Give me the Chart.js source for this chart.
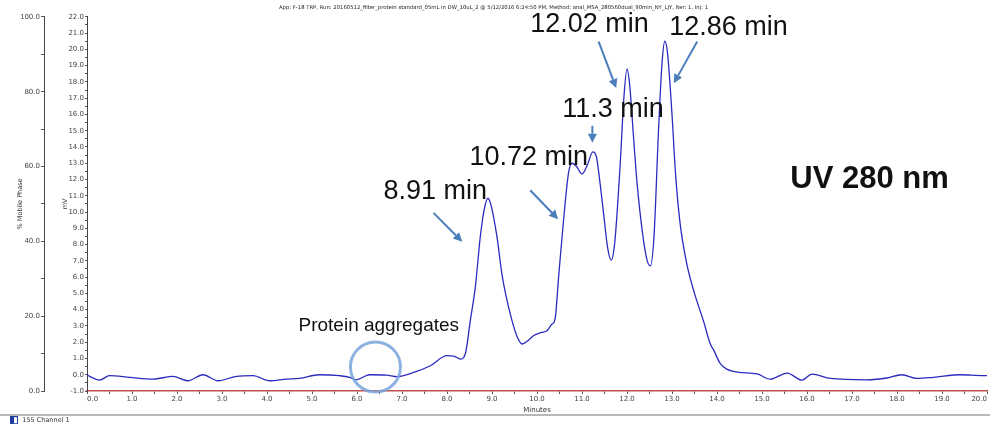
<!DOCTYPE html>
<html>
<head>
<meta charset="utf-8">
<script src="https://cdn.jsdelivr.net/npm/chart.js@4.4.1/dist/chart.umd.min.js"></script>
<style>
  html, body { margin: 0; padding: 0; background: #fff; }
  #wrap { width: 990px; height: 429px; }
</style>
</head>
<body>
<div id="wrap"><canvas id="uvChart"></canvas></div>
<script>
const runTitle = "App: F-18 TRP, Run: 20160512_filter_protein standard_05mL in DW_10uL_2 @ 5/12/2016 6:24:50 PM, Method: anal_MSA_280560dual_90min_NY_LJY, Iter: 1, Inj: 1";
const channelName = "155 Channel 1";

// retention time (minutes)
const times = [
  0.00, 0.28, 0.50, 0.95, 1.47, 1.91, 2.24, 2.58, 2.91, 3.32,
  3.69, 4.06, 4.43, 4.72, 5.17, 5.61, 5.84, 5.98, 6.28, 6.65,
  6.89, 7.26, 7.63, 8.00, 8.15, 8.30, 8.41, 8.52, 8.63, 8.74,
  8.83, 8.91, 8.98, 9.11, 9.22, 9.30, 9.44, 9.55, 9.67, 9.80,
  9.92, 10.10, 10.22, 10.33, 10.40, 10.48, 10.59, 10.70, 10.78, 10.88,
  11.00, 11.12, 11.24, 11.32, 11.40, 11.48, 11.57, 11.65, 11.73, 11.85,
  11.93, 12.00, 12.06, 12.14, 12.22, 12.35, 12.45, 12.52, 12.60, 12.70,
  12.78, 12.84, 12.90, 13.00, 13.08, 13.18, 13.33, 13.50, 13.70, 13.85,
  13.93, 14.07, 14.37, 14.89, 15.18, 15.56, 15.89, 16.11, 16.52, 17.33,
  17.78, 18.11, 18.44, 18.81, 19.41, 19.92, 20.00
];
// detector signal (mV)
const signal = [
  -0.02, -0.33, -0.06, -0.16, -0.27, -0.10, -0.37, 0.00, -0.37, -0.10,
  -0.06, -0.37, -0.27, -0.23, 0.00, -0.06, -0.16, -0.31, 0.00, -0.02,
  -0.12, 0.14, 0.55, 1.17, 1.15, 0.96, 1.32, 3.37, 5.40, 8.49,
  10.20, 10.85, 10.40, 8.49, 6.20, 5.00, 3.37, 2.40, 1.89, 2.10,
  2.40, 2.60, 2.70, 3.10, 3.40, 6.00, 9.50, 12.40, 13.00, 12.80,
  12.34, 12.90, 13.70, 13.40, 11.80, 9.90, 7.80, 7.05, 8.20, 13.00,
  17.00, 18.80, 17.80, 14.80, 11.90, 8.60, 7.00, 6.70, 8.50, 15.00,
  19.20, 20.50, 19.80, 16.00, 12.30, 9.30, 6.80, 5.00, 3.30, 1.90,
  1.50, 0.70, 0.20, 0.05, -0.27, 0.10, -0.33, 0.04, -0.23, -0.31,
  -0.20, 0.00, -0.23, -0.16, 0.00, -0.06, -0.05
];

// peak call-outs: label, where the text sits, arrow from -> to (minutes, mV)
const peakLabels = [
  { text: "8.91 min",  t: 6.59,  v: 11.24, from: [7.70, 9.95],  to: [8.34, 8.17] },
  { text: "10.72 min", t: 8.50,  v: 13.33, from: [9.85, 11.34], to: [10.47, 9.56] },
  { text: "11.3 min",  t: 10.56, v: 16.28, from: [11.23, 15.30], to: [11.23, 14.26] },
  { text: "12.02 min", t: 9.85,  v: 21.51, from: [11.37, 20.48], to: [11.76, 17.62] },
  { text: "12.86 min", t: 12.94, v: 21.32, from: [13.56, 20.48], to: [13.04, 17.92] }
];

// legend marker: half-filled box at the right of a 17px strip
const legendIcon = document.createElement('canvas');
legendIcon.width = 17; legendIcon.height = 8;
(function () {
  const c = legendIcon.getContext('2d');
  c.fillStyle = '#fff'; c.fillRect(8, 0, 8, 8);
  c.fillStyle = '#1f3f9f'; c.fillRect(8, 0, 4, 8);
  c.strokeStyle = '#1f3f9f'; c.lineWidth = 1; c.strokeRect(8.5, 0.5, 7, 7);
})();

const callouts = {
  id: 'callouts',
  afterDatasetsDraw(chart) {
    const { ctx } = chart;
    const x = chart.scales.x, y = chart.scales.mv;
    const px = t => x.getPixelForValue(t);
    const py = v => y.getPixelForValue(v);
    ctx.save();

    // arrows
    ctx.strokeStyle = '#4a7ebb';
    ctx.fillStyle = '#4a7ebb';
    ctx.lineWidth = 2;
    peakLabels.forEach(p => {
      const x0 = px(p.from[0]), y0 = py(p.from[1]);
      const x1 = px(p.to[0]), y1 = py(p.to[1]);
      const a = Math.atan2(y1 - y0, x1 - x0);
      const hl = 9, hw = 4.5;
      const bx = x1 - hl * Math.cos(a), by = y1 - hl * Math.sin(a);
      ctx.beginPath();
      ctx.moveTo(x0, y0);
      ctx.lineTo(bx, by);
      ctx.stroke();
      ctx.beginPath();
      ctx.moveTo(x1, y1);
      ctx.lineTo(bx + hw * Math.sin(a), by - hw * Math.cos(a));
      ctx.lineTo(bx - hw * Math.sin(a), by + hw * Math.cos(a));
      ctx.closePath();
      ctx.fill();
    });

    // peak texts
    ctx.fillStyle = '#111';
    ctx.textAlign = 'left';
    ctx.textBaseline = 'middle';
    ctx.font = '27px "Liberation Sans", Arial, sans-serif';
    peakLabels.forEach(p => ctx.fillText(p.text, px(p.t), py(p.v)));

    ctx.font = 'bold 31px "Liberation Sans", Arial, sans-serif';
    ctx.fillText("UV 280 nm", px(15.63), py(11.98));

    ctx.font = '19px "Liberation Sans", Arial, sans-serif';
    ctx.fillText("Protein aggregates", px(4.70), py(3.0));

    // aggregates circle
    ctx.strokeStyle = 'rgba(120,165,220,0.85)';
    ctx.lineWidth = 3;
    ctx.beginPath();
    ctx.arc(px(6.41), py(0.48), 25, 0, Math.PI * 2);
    ctx.stroke();

    // separator above the legend
    ctx.strokeStyle = '#a0a0a0';
    ctx.lineWidth = 1.5;
    ctx.beginPath();
    ctx.moveTo(0, x.bottom);
    ctx.lineTo(chart.width, x.bottom);
    ctx.stroke();
    ctx.restore();
  }
};

const tickFont = { family: '"DejaVu Sans", Verdana, sans-serif', size: 7 };

new Chart(document.getElementById('uvChart'), {
  type: 'line',
  data: {
    datasets: [{
      label: channelName,
      data: times.map((t, i) => ({ x: t, y: signal[i] })),
      yAxisID: 'mv',
      borderColor: '#2b2bc0',
      borderWidth: 1.3,
      pointRadius: 0,
      cubicInterpolationMode: 'monotone',
      fill: false
    }]
  },
  options: {
    responsive: true,
    maintainAspectRatio: false,
    animation: false,
    events: [],
    layout: { padding: { right: 3, left: 0, top: 0, bottom: 0 } },
    plugins: {
      title: {
        display: true,
        text: runTitle,
        color: '#222',
        font: { family: '"DejaVu Sans", Verdana, sans-serif', size: 5.3, weight: 'normal' },
        padding: { top: 4, bottom: 6.5 }
      },
      legend: {
        position: 'bottom',
        align: 'start',
        maxHeight: 14,
        labels: {
          usePointStyle: true,
          pointStyle: legendIcon,
          pointStyleWidth: 17,
          color: '#333',
          font: { family: tickFont.family, size: 6.5 },
          padding: 2
        }
      },
      tooltip: { enabled: false }
    },
    scales: {
      x: {
        type: 'linear',
        min: 0,
        max: 20,
        afterFit: s => { s.height = 24; },
        border: { color: '#c0504d', width: 1.5 },
        grid: { drawOnChartArea: false, tickLength: 3, tickColor: '#555' },
        ticks: {
          stepSize: 0.5,
          autoSkip: false,
          maxRotation: 0,
          align: 'inner',
          padding: 1,
          color: '#444',
          font: tickFont,
          callback: v => (v % 1 === 0 ? v.toFixed(1) : '')
        },
        title: { display: true, text: 'Minutes', color: '#333', font: tickFont, padding: { top: 0, bottom: 1 } }
      },
      mv: {
        type: 'linear',
        position: 'left',
        weight: 0,
        min: -1,
        max: 22,
        afterFit: s => { s.width = 43; },
        border: { color: '#444', width: 1 },
        grid: { drawOnChartArea: false, tickLength: 2, tickColor: '#555' },
        ticks: {
          stepSize: 0.5,
          autoSkip: false,
          padding: 1,
          color: '#444',
          font: tickFont,
          callback: v => (v % 1 === 0 ? v.toFixed(1) : '')
        },
        title: { display: true, text: 'mV', color: '#333', font: { family: tickFont.family, size: 6.5 }, padding: { top: 17, bottom: 0 } }
      },
      phase: {
        type: 'linear',
        position: 'left',
        weight: 1,
        min: 0,
        max: 100,
        afterFit: s => { s.width = 44; },
        border: { color: '#444', width: 1 },
        grid: { drawOnChartArea: false, tickLength: 3, tickColor: '#555' },
        ticks: {
          stepSize: 10,
          autoSkip: false,
          padding: 1,
          color: '#444',
          font: tickFont,
          callback: v => (v % 20 === 0 ? v.toFixed(1) : '')
        },
        title: { display: true, text: '% Mobile Phase', color: '#333', font: { family: tickFont.family, size: 6.5 }, padding: { top: 16, bottom: 0 } }
      }
    }
  },
  plugins: [callouts]
});
</script>
</body>
</html>
